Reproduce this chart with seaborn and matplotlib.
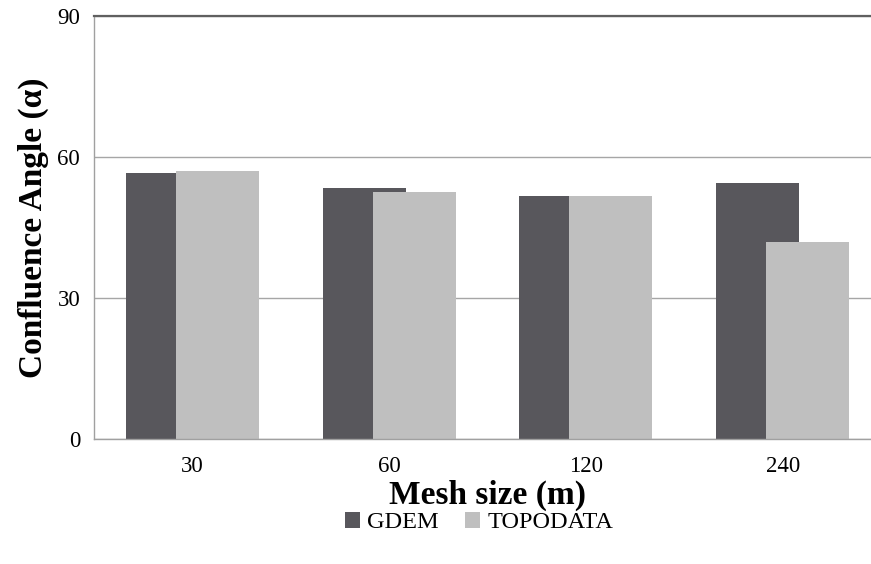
import pandas as pd
import seaborn as sns
import matplotlib.pyplot as plt

mesh = ["30", "60", "120", "240"]
gdem = [56.5, 53.5, 51.7, 54.4]
topodata = [57.0, 52.5, 51.7, 42.0]

df = pd.DataFrame({
    "mesh": mesh * 2,
    "source": ["GDEM"] * 4 + ["TOPODATA"] * 4,
    "angle": gdem + topodata,
})

sns.set_style("white")
plt.rcParams["font.family"] = ["Liberation Serif", "DejaVu Serif"]
plt.rcParams["text.color"] = "black"
plt.rcParams["axes.labelcolor"] = "black"

fig = plt.figure(figsize=(8.71, 5.64), dpi=100)
ax = fig.add_axes([0.108, 0.2216, 0.9035, 0.75])

sns.barplot(data=df, x="mesh", y="angle", hue="source",
            palette=["#58575c", "#bfbfbf"], saturation=1,
            width=0.844, linewidth=0, ax=ax)

# bars overlap a bit, like the excel chart
shift = 0.084
for bar in ax.containers[0]:
    bar.set_x(bar.get_x() + shift)
for bar in ax.containers[1]:
    bar.set_x(bar.get_x() - shift)

ax.set_ylim(0, 90)
ax.set_yticks([0, 30, 60, 90])
ax.set_xlim(-0.5, 3.5)
ax.yaxis.grid(True, color="#a6a6a6", lw=1)
ax.set_axisbelow(True)

for s in ["left", "bottom"]:
    ax.spines[s].set_color("#a0a0a0")
    ax.spines[s].set_linewidth(1)
ax.spines["right"].set_visible(False)
ax.spines["top"].set_color("#606060")
ax.spines["top"].set_linewidth(1.6)

ax.tick_params(axis="both", length=0, labelsize=16.5, labelcolor="black")
ax.tick_params(axis="y", pad=10)
ax.tick_params(axis="x", pad=12)

ax.set_xlabel("Mesh size (m)", fontsize=24, fontweight="bold", labelpad=2)
ax.set_ylabel("Confluence Angle (α)", fontsize=24, fontweight="bold", labelpad=6)

handles, labels = ax.get_legend_handles_labels()
ax.legend_.remove()
fig.legend(handles, labels, loc="center", bbox_to_anchor=(0.55, 0.073),
           ncol=2, frameon=False, fontsize=17.5, handlelength=0.6,
           handleheight=0.6, handletextpad=0.3, columnspacing=1.1)

fig.savefig("out.png", dpi=100)
